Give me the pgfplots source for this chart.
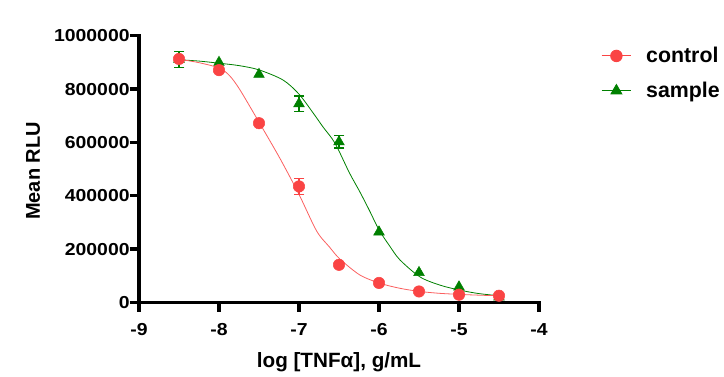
\documentclass[border=0pt]{standalone}
\usepackage{fontspec}
\setmainfont{Liberation Sans}
\newfontfamily\tickfont{Liberation Sans}[FakeStretch=1.12]
\usepackage{pgfplots}
\pgfplotsset{compat=1.18}
\definecolor{cred}{RGB}{250,68,68}
\definecolor{cgreen}{RGB}{0,128,0}

\pgfplotstableread{
x y
-8.5 913000
-8.0 871000
-7.5 672000
-7.0 435000
-6.5 141000
-6.0 73000
-5.5 41000
-5.0 29000
-4.5 25000
}\controldata

\pgfplotstableread{
x y
-8.5 912000
-8.0 900000
-7.5 855000
-7.0 745000
-6.5 602000
-6.0 264000
-5.5 112000
-5.0 58000
-4.5 20000
}\sampledata

\pgfplotstableread{
x y
-8.5 912000
-8.25 899000
-8.0 879000
-7.87 851000
-7.74 798000
-7.5 676000
-7.24 541000
-7.0 405000
-6.78 268000
-6.62 208000
-6.49 163000
-6.24 103000
-5.99 72000
-5.74 53000
-5.49 41000
-5.24 34000
-4.99 30000
-4.74 27000
-4.5 25000
}\controlfit

\pgfplotstableread{
x y
-8.5 910000
-8.25 905000
-8.0 897000
-7.75 888000
-7.5 872000
-7.2 834000
-7.0 781000
-6.82 709000
-6.7 658000
-6.55 597000
-6.37 486000
-6.24 415000
-6.12 345000
-6.0 272000
-5.87 213000
-5.74 160000
-5.49 96000
-5.24 65000
-4.99 46000
-4.75 33000
-4.5 25000
}\samplefit

\begin{document}
\begin{tikzpicture}
\useasboundingbox (-104.25pt,-55.2pt) rectangle (438.75pt,226.8pt);
\begin{axis}[
  scale only axis, width=300pt, height=200pt,
  xmin=-9, xmax=-4, ymin=0, ymax=1000000,
  clip=false,
  axis x line*=bottom, axis y line*=left,
  axis line style={line width=2.4pt, black, line cap=rect},
  tick style={line width=2.4pt, black},
  major tick length=7pt,
  tick align=outside,
  xtick={-9,-8,-7,-6,-5,-4},
  ytick={0,200000,400000,600000,800000,1000000},
  scaled y ticks=false,
  /pgf/number format/assume math mode=true,
  yticklabel style={/pgf/number format/fixed, /pgf/number format/1000 sep={}, xshift=3.5pt},
  xticklabel style={yshift=-5pt},
  tick label style={font=\tickfont\bfseries\fontsize{13}{15}\selectfont},
  xlabel={log [TNFα], g/mL},
  ylabel={Mean RLU},
  xlabel style={font=\bfseries\fontsize{15.5}{18}\selectfont, at={(axis description cs:0.5,-0.223)}, anchor=center},
  ylabel style={font=\bfseries\fontsize{15}{18}\selectfont, at={(axis description cs:-0.265,0.493)}, anchor=center, rotate=0},
  legend image code/.code={\draw[mark repeat=2,mark phase=2,#1] plot coordinates {(0pt,0pt)(11pt,0pt)(22pt,0pt)};},
  legend style={at={(axis description cs:1.145,0.978)}, anchor=north west, draw=none, fill=none,
    font=\bfseries\fontsize{16}{19}\selectfont, row sep=9pt,
    /tikz/every odd column/.append style={column sep=9pt}},
  legend cell align=left,
  ebar/.style={forget plot, line width=0.8pt, mark=-, mark size=4pt, mark options={solid, line width=0.8pt}},
]
\addlegendimage{cred, line width=0.7pt, mark=*, mark size=4.3pt, mark options={fill=cred, draw=cred}}
\addlegendentry{control}
\addlegendimage{cgreen, line width=0.7pt, mark=triangle*, mark size=4.6pt, mark options={fill=cgreen, draw=cgreen}}
\addlegendentry{sample}

\addplot[forget plot, cgreen, line width=0.6pt, smooth, no marks] table[x=x,y=y] {\samplefit};
\addplot[forget plot, cred!85!white, line width=0.6pt, smooth, no marks] table[x=x,y=y] {\controlfit};

% sample error bars (mean +/- error)
\addplot[ebar, cgreen] coordinates {(-8.5,882000) (-8.5,942000)};
\addplot[ebar, cgreen] coordinates {(-7.0,716000) (-7.0,774000)};
\addplot[ebar, cgreen] coordinates {(-6.5,579000) (-6.5,625000)};
\addplot[forget plot, cgreen, only marks, mark=triangle*, mark size=4.6pt]
  table[x=x,y=y] {\sampledata};

% control error bar
\addplot[ebar, cred] coordinates {(-7.0,404000) (-7.0,466000)};
\addplot[forget plot, cred, only marks, mark=*, mark size=4.3pt]
  table[x=x,y=y] {\controldata};
\end{axis}
\end{tikzpicture}
\end{document}
